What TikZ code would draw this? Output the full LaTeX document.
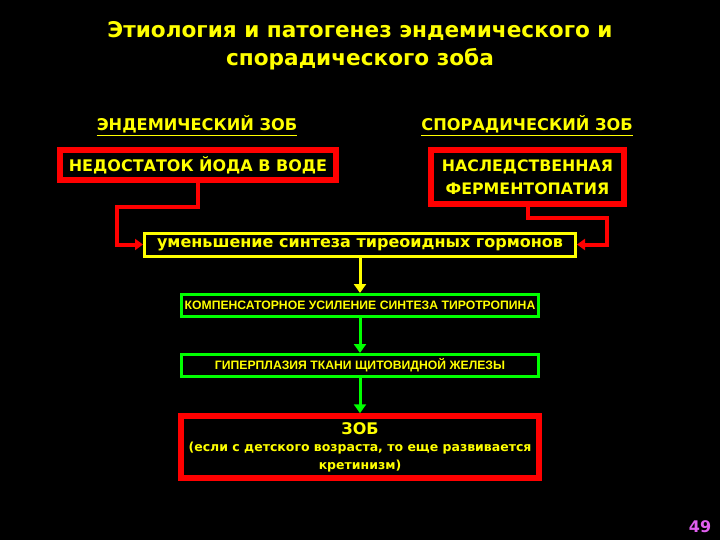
\documentclass[tikz,border=0pt]{standalone}
\usepackage{fontspec}
\setmainfont{DejaVu Sans}
\newfontfamily\narrowfont{Liberation Sans}
\usetikzlibrary{arrows.meta}
\definecolor{slideyellow}{RGB}{255,255,0}
\definecolor{slidered}{RGB}{255,0,0}
\definecolor{slidegreen}{RGB}{0,255,0}
\definecolor{pagepink}{RGB}{225,95,240}

\begin{document}
\begin{tikzpicture}[x=1pt, y=-1pt,
    txt/.style={text=slideyellow, font=\bfseries, align=center, inner sep=0pt},
    redbox/.style={txt, draw=slidered, line width=5.5pt},
    yellowbox/.style={txt, draw=slideyellow, line width=3pt},
    greenbox/.style={txt, draw=slidegreen, line width=3pt, minimum width=357pt, minimum height=22pt,
        font=\narrowfont\bfseries\fontsize{12.2}{14}\selectfont},
    redline/.style={draw=slidered, line width=4pt, -{Triangle[width=11pt,length=8pt]}},
    yellowline/.style={draw=slideyellow, line width=3pt, -{Triangle[width=12pt,length=9pt]}},
    greenline/.style={draw=slidegreen, line width=3pt, -{Triangle[width=12pt,length=9pt]}}]
    % The slide
    \fill[black] (0,0) rectangle (720,540);
    \useasboundingbox (0,0) rectangle (720,540);

    % Title and headings
    \node[txt, font=\bfseries\fontsize{21.6}{28}\selectfont] (title) at (360,46)
        {Этиология и патогенез эндемического и\\спорадического зоба};
    \node[txt, font=\bfseries\fontsize{16.2}{18}\selectfont, inner ysep=2.5pt] (endemic) at (197,124) {ЭНДЕМИЧЕСКИЙ ЗОБ};
    \node[txt, font=\bfseries\fontsize{16.2}{18}\selectfont, inner ysep=2.5pt] (sporadic) at (527,124) {СПОРАДИЧЕСКИЙ ЗОБ};
    \draw[slideyellow, line width=1.5pt] (endemic.south west) -- (endemic.south east);
    \draw[slideyellow, line width=1.5pt] (sporadic.south west) -- (sporadic.south east);

    % The causes
    \node[redbox, minimum width=276pt, minimum height=30pt, font=\bfseries\fontsize{16}{19}\selectfont]
        (iodine) at (198,165) {НЕДОСТАТОК ЙОДА В ВОДЕ};
    \node[redbox, minimum width=193pt, minimum height=54pt, font=\bfseries\fontsize{15.8}{23}\selectfont]
        (enzyme) at (527.5,177) {НАСЛЕДСТВЕННАЯ\\ФЕРМЕНТОПАТИЯ};

    % The chain
    \node[yellowbox, minimum width=431pt, minimum height=23pt, font=\bfseries\fontsize{16}{19}\selectfont]
        (synthesis) at (360,244.5) {уменьшение синтеза тиреоидных гормонов};
    \node[greenbox] (tsh) at (360,305.5) {КОМПЕНСАТОРНОЕ УСИЛЕНИЕ СИНТЕЗА ТИРОТРОПИНА};
    \node[greenbox] (hyperplasia) at (360,365.5) {ГИПЕРПЛАЗИЯ ТКАНИ ЩИТОВИДНОЙ ЖЕЛЕЗЫ};
    \node[redbox, minimum width=358pt, minimum height=62pt, font=\bfseries\fontsize{12.5}{17.5}\selectfont]
        (goiter) at (360,447) {{\fontsize{16}{17.5}\selectfont ЗОБ}\\(если с детского возраста, то еще развивается\\кретинизм)};

    % Connectors
    \coordinate (leftbend) at (117,207);
    \coordinate (rightbend) at (607,218);
    \draw[redline] (iodine.south) |- (leftbend) |- (synthesis.west);
    \draw[redline] (enzyme.south) |- (rightbend) |- (synthesis.east);
    \draw[yellowline] (synthesis.south) -- (tsh.north);
    \draw[greenline] (tsh.south) -- (hyperplasia.north);
    \draw[greenline] (hyperplasia.south) -- (goiter.north);

    % Page number
    \node[txt, text=pagepink, font=\bfseries\fontsize{16}{18}\selectfont] (pagenum) at (700,527) {49};
\end{tikzpicture}
\end{document}
